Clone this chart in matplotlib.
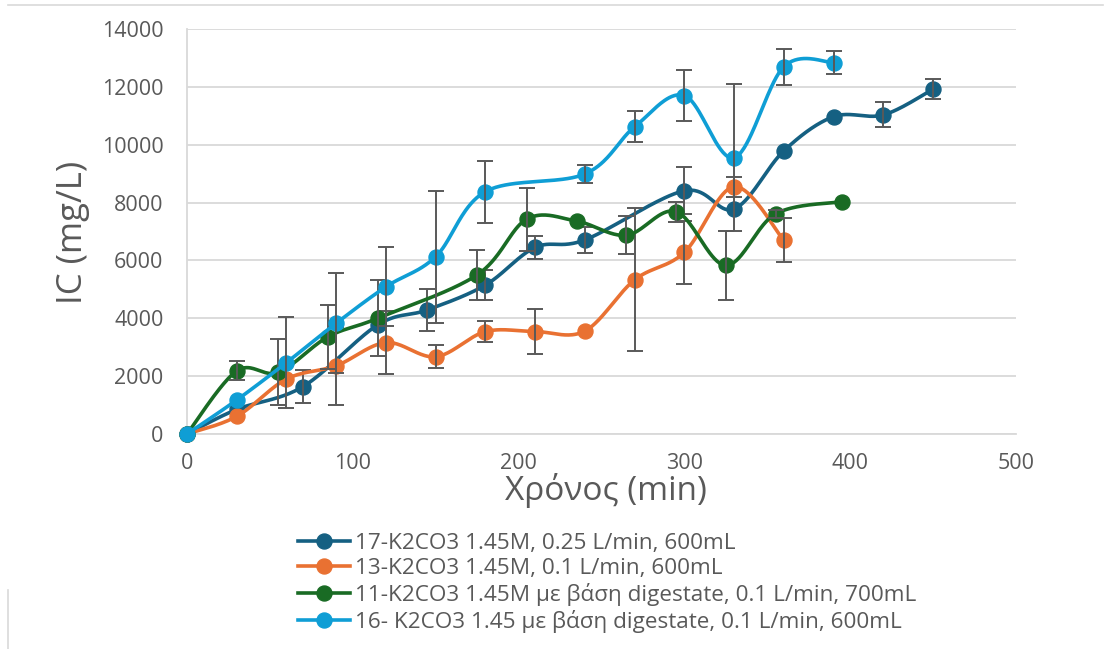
import numpy as np
import matplotlib
matplotlib.use("Agg")
import matplotlib.pyplot as plt
from matplotlib.lines import Line2D

# ---- data: time (min), IC (mg/L), error (mg/L) ----
t17 = [0, 30, 70, 115, 145, 180, 210, 240, 300, 330, 360, 390, 420, 450]
ic17 = [0, 850, 1640, 3770, 4290, 5150, 6450, 6710, 8410, 7780, 9790, 10970, 11030, 11920]
err17 = [0, 0, 575, 0, 720, 520, 400, 450, 810, 0, 0, 0, 430, 350]

t13 = [0, 30, 60, 90, 120, 150, 180, 210, 240, 270, 300, 330, 360]
ic13 = [0, 610, 1900, 2360, 3160, 2670, 3540, 3540, 3560, 5330, 6280, 8550, 6690]
err13 = [0, 0, 0, 1350, 1090, 390, 370, 790, 0, 2475, 1100, 350, 760]

t11 = [0, 30, 55, 85, 115, 175, 205, 235, 265, 295, 325, 355, 395]
ic11 = [0, 2180, 2130, 3360, 4000, 5500, 7430, 7360, 6870, 7690, 5830, 7610, 8030]
err11 = [0, 330, 1140, 1100, 1320, 860, 1090, 0, 665, 345, 1190, 150, 0]

t16 = [0, 30, 60, 90, 120, 150, 180, 240, 270, 300, 330, 360, 390]
ic16 = [0, 1175, 2470, 3830, 5090, 6130, 8380, 8990, 10620, 11700, 9550, 12700, 12840]
err16 = [0, 0, 1560, 1720, 1360, 2280, 1070, 300, 530, 890, 2550, 620, 400]

labels = [
    "17-K2CO3 1.45M, 0.25 L/min, 600mL",
    "13-K2CO3 1.45M, 0.1 L/min, 600mL",
    "11-K2CO3 1.45M με βάση digestate, 0.1 L/min, 700mL",
    "16- K2CO3 1.45 με βάση digestate, 0.1 L/min, 600mL",
]
colors = ["#156082", "#E97132", "#196B24", "#0F9ED5"]

FONT = "Open Sans"
GREY_TXT = "#595959"
GRID = "#D9D9D9"


def smooth(x, y, steps=40):
    """Catmull-Rom style Bezier curve through the points (spreadsheet-like smoothing)."""
    p = np.column_stack([np.asarray(x, float), np.asarray(y, float)])
    ext = np.vstack([p[0], p, p[-1]])
    parts = []
    n = len(p)
    for i in range(n - 1):
        p0, p1, p2, p3 = ext[i], ext[i + 1], ext[i + 2], ext[i + 3]
        c1 = p1 + (p2 - p0) / 6.0
        c2 = p2 - (p3 - p1) / 6.0
        t = np.linspace(0, 1, steps, endpoint=(i == n - 2))[:, None]
        b = ((1 - t) ** 3) * p1 + 3 * ((1 - t) ** 2) * t * c1 + 3 * (1 - t) * t ** 2 * c2 + t ** 3 * p2
        parts.append(b)
    out = np.vstack(parts)
    return out[:, 0], out[:, 1]


fig = plt.figure(figsize=(11.1, 6.49), dpi=100)
W, H = 1110, 649
ax = fig.add_axes([187 / W, 1 - 434 / H, (1016 - 187) / W, (434 - 29) / H])

series = [(t17, ic17, err17), (t13, ic13, err13), (t11, ic11, err11), (t16, ic16, err16)]
for k, ((t, v, e), col) in enumerate(zip(series, colors)):
    z = 3 + k
    xs, ys = smooth(t, v)
    ax.plot(xs, ys, color=col, lw=2.6, zorder=z, solid_capstyle="round", clip_on=False)
    ax.plot(t, v, "o", color=col, ms=10.8, mec=col, zorder=z, clip_on=False)
    t_arr, v_arr, e_arr = np.array(t), np.array(v), np.array(e)
    m = e_arr > 0
    ax.errorbar(t_arr[m], v_arr[m], yerr=e_arr[m], fmt="none", ecolor="#595959",
                elinewidth=1.4, capsize=5.5, capthick=1.4, zorder=z + 0.5)

ax.set_xlim(0, 500)
ax.set_ylim(0, 14000)
ax.set_xticks(np.arange(0, 501, 100))
ax.set_yticks(np.arange(0, 14001, 2000))
ax.grid(axis="y", color=GRID, lw=1.3)
ax.set_axisbelow(True)
for s in ["top", "right"]:
    ax.spines[s].set_visible(False)
for s in ["left", "bottom"]:
    ax.spines[s].set_color(GRID)
    ax.spines[s].set_linewidth(1.3)
ax.tick_params(length=0, labelcolor=GREY_TXT, labelsize=15.5)
ax.tick_params(axis="y", pad=17)
ax.tick_params(axis="x", pad=14)
for lbl in ax.get_xticklabels() + ax.get_yticklabels():
    lbl.set_fontfamily(FONT)

fig.text(73 / W, 1 - 232 / H, "IC (mg/L)", rotation=90, ha="center", va="center",
         fontsize=25, color=GREY_TXT, family=FONT)
fig.text(606 / W, 1 - 500 / H, "Χρόνος (min)", ha="center", va="baseline",
         fontsize=24, color=GREY_TXT, family=FONT)

handles = [Line2D([0], [0], color=c, lw=2.6, marker="o", ms=10.8) for c in colors]
fig.legend(handles, labels, loc="upper left", bbox_to_anchor=(298 / W, 1 - 533 / H),
           frameon=False, prop={"family": FONT, "size": 16.2}, labelcolor=GREY_TXT,
           handlelength=2.3, handletextpad=0.25, labelspacing=0.18, borderpad=0,
           borderaxespad=0)

# chart-area border
fig.add_artist(Line2D([8 / W, 1103 / W], [1 - 5 / H, 1 - 5 / H], color=GRID, lw=1.2))
fig.add_artist(Line2D([8 / W, 8 / W], [0, 1 - 590 / H], color=GRID, lw=1.2))

fig.savefig("out.png", dpi=100, facecolor="white")
